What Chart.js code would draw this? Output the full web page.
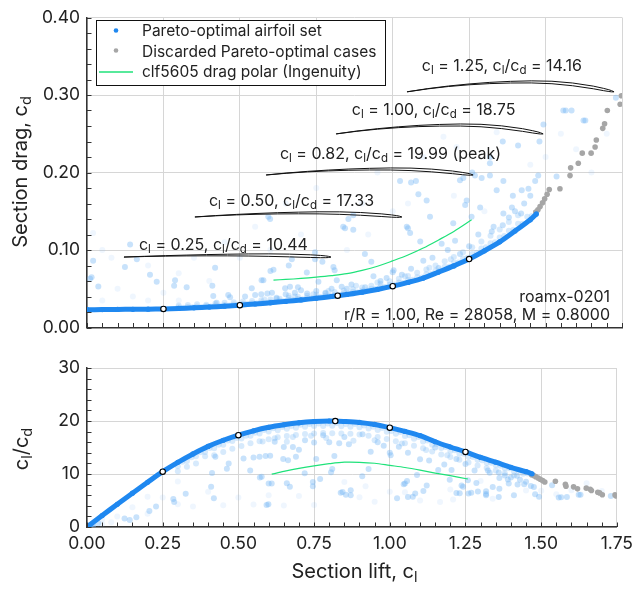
<!DOCTYPE html>
<html>
<head>
<meta charset="utf-8">
<script src="https://cdn.jsdelivr.net/npm/chart.js@4.4.1/dist/chart.umd.min.js"></script>
<style>
  html, body { margin: 0; padding: 0; background: #fff; }
  #wrap { position: relative; width: 639px; height: 589px; overflow: hidden; }
  #dragChart { position: absolute; left: 0; top: 0; width: 639px; height: 345px; }
  #ratioChart { position: absolute; left: 0; top: 345px; width: 639px; height: 244px; }
</style>
</head>
<body>
<div id="wrap">
  <canvas id="dragChart" width="639" height="345"></canvas>
  <canvas id="ratioChart" width="639" height="244"></canvas>
</div>
<script>
// ---- Pareto-optimal front (section lift vs. section drag) ----
const frontCl = [0.00, 0.05, 0.10, 0.15, 0.20, 0.25, 0.30, 0.35, 0.40, 0.45, 0.50, 0.55, 0.60, 0.65, 0.70,
                 0.75, 0.80, 0.85, 0.90, 0.95, 1.00, 1.05, 1.10, 1.15, 1.20, 1.25, 1.30, 1.35, 1.40, 1.45, 1.47];
const frontCd = [0.0230, 0.0231, 0.0233, 0.0235, 0.0237, 0.02395, 0.0246, 0.0254, 0.0263, 0.0275, 0.02885, 0.0303, 0.0319, 0.0337, 0.0356,
                 0.0377, 0.0400, 0.0427, 0.0456, 0.0491, 0.05333, 0.0582, 0.0638, 0.0715, 0.0795, 0.08828, 0.0990, 0.1105, 0.1245, 0.1390, 0.1465];

// ---- Pareto-optimal cases beyond the usable range (discarded) ----
const discardCl = [1.468, 1.475, 1.482, 1.490, 1.497, 1.505, 1.512, 1.547, 1.580, 1.582, 1.607, 1.620, 1.649, 1.662, 1.666, 1.687, 1.693, 1.702, 1.744, 1.748];
const discardCd = [0.149, 0.152, 0.156, 0.161, 0.166, 0.172, 0.178, 0.179, 0.196, 0.206, 0.212, 0.225, 0.225, 0.233, 0.242, 0.257, 0.263, 0.280, 0.288, 0.299];

// ---- clf5605 drag polar (Ingenuity) ----
const polarCl = [0.61, 0.65, 0.70, 0.75, 0.80, 0.85, 0.90, 0.95, 1.00, 1.05, 1.10, 1.15, 1.20, 1.258];
const polarCd = [0.0612, 0.0620, 0.0633, 0.0650, 0.0670, 0.0695, 0.0737, 0.0790, 0.0860, 0.0935, 0.1025, 0.1130, 0.1240, 0.1390];

// ---- Highlighted design points ----
const markerCl = [0.25, 0.50, 0.82, 1.00, 1.25];
const markerLD = [10.44, 17.33, 19.99, 18.75, 14.16];
const markerNote = ['', '', ' (peak)', '', ''];

// ---- Non-optimal candidates close to the front ----
const bandCl = [0.30, 0.30, 0.33, 0.33, 0.36, 0.36, 0.39, 0.39, 0.42, 0.42, 0.45, 0.45, 0.48, 0.48, 0.51, 0.51,
                0.54, 0.54, 0.57, 0.57, 0.60, 0.60, 0.63, 0.63, 0.66, 0.66, 0.69, 0.69, 0.72, 0.72, 0.75, 0.75,
                0.78, 0.78, 0.81, 0.81, 0.84, 0.84, 0.87, 0.87, 0.90, 0.90, 0.93, 0.93, 0.96, 0.96, 0.99, 0.99,
                1.02, 1.02, 1.05, 1.05, 1.08, 1.08, 1.11, 1.11, 1.14, 1.14, 1.17, 1.17, 1.20, 1.20, 1.23, 1.23,
                1.26, 1.26, 1.29, 1.29, 1.32, 1.32, 1.35, 1.35, 1.38, 1.38, 1.41, 1.41, 1.44,
                0.465, 0.525, 0.585, 0.645, 0.705, 0.765, 0.825, 0.885, 0.945, 1.005, 1.065, 1.125, 1.185, 1.245, 1.305, 1.365, 1.425,
                0.315, 0.345, 0.375, 0.405, 0.435, 0.495, 0.555, 0.615, 0.675, 0.735, 0.795, 0.855, 0.915, 0.975, 1.035, 1.095,
                1.155, 1.215, 1.275, 1.335, 1.395, 1.455,
                0.62, 0.68, 0.74, 0.79, 0.88, 0.95, 1.04, 1.12, 1.19, 0.58, 0.66];
const bandCd = [0.0262, 0.0285, 0.0265, 0.0290, 0.0270, 0.0300, 0.0276, 0.0292, 0.0283, 0.0310, 0.0290, 0.0318, 0.0296, 0.0325, 0.0305, 0.0334,
                0.0314, 0.0342, 0.0323, 0.0352, 0.0333, 0.0362, 0.0345, 0.0372, 0.0356, 0.0384, 0.0368, 0.0398, 0.0381, 0.0410, 0.0394, 0.0425,
                0.0409, 0.0440, 0.0424, 0.0458, 0.0442, 0.0476, 0.0460, 0.0495, 0.0478, 0.0515, 0.0500, 0.0540, 0.0524, 0.0566, 0.0551, 0.0596,
                0.0580, 0.0630, 0.0612, 0.0665, 0.0648, 0.0705, 0.0688, 0.0748, 0.0735, 0.0800, 0.0785, 0.0855, 0.0836, 0.0910, 0.0890, 0.0970,
                0.0950, 0.1035, 0.1018, 0.1110, 0.1088, 0.1185, 0.1160, 0.1265, 0.1250, 0.1360, 0.1338, 0.1450, 0.1430,
                0.0285, 0.0305, 0.0320, 0.0342, 0.0365, 0.0392, 0.0420, 0.0455, 0.0500, 0.0555, 0.0615, 0.0690, 0.0785, 0.0900, 0.1035, 0.1180, 0.1340,
                0.0256, 0.0262, 0.0266, 0.0272, 0.0280, 0.0295, 0.0312, 0.0330, 0.0354, 0.0378, 0.0407, 0.0440, 0.0478, 0.0522, 0.0578, 0.0645,
                0.0737, 0.0840, 0.0965, 0.1100, 0.1260, 0.1440,
                0.0370, 0.0400, 0.0430, 0.0470, 0.0540, 0.0580, 0.0660, 0.0770, 0.0880, 0.0360, 0.0410];

// ---- Scattered non-optimal candidates ----
const cloudCl = [0.010, 0.020, 0.015, 0.037, 0.124, 0.163, 0.141, 0.206, 0.228, 0.285, 0.326, 0.288, 0.410, 0.419, 0.413, 0.424,
                 0.468, 0.462, 0.517, 0.539, 0.571, 0.577, 0.593, 0.599, 0.550, 0.570, 0.590, 0.605, 0.620, 0.650, 0.648, 0.664,
                 0.690, 0.610, 0.719, 0.746, 0.746, 0.770, 0.757, 0.806, 0.810, 0.817, 0.838, 0.844, 0.855, 0.871, 0.871, 0.909,
                 0.930, 1.024, 1.076, 1.060, 1.046, 1.057, 1.050, 1.084, 1.090, 1.111, 1.122, 1.160, 1.198, 1.204, 1.220, 1.231,
                 1.237, 1.242, 1.258, 1.260, 1.269, 1.286, 1.291, 1.318, 1.318, 1.318, 1.324, 1.340, 1.360, 1.362, 1.362, 1.360,
                 1.390, 1.393, 1.400, 1.420, 1.422, 1.410, 1.444, 1.450, 1.466, 1.476, 1.480, 1.493, 1.536, 1.558, 1.566, 1.585,
                 1.624, 1.630, 1.730, 0.600, 0.660, 0.670, 0.833, 0.865, 0.910, 0.937, 1.000, 1.003, 1.060, 1.100, 1.150, 1.220,
                 1.250, 0.960, 0.980, 1.030, 1.130, 1.180, 1.280, 1.330, 1.380, 1.430, 0.720, 0.750, 0.780, 0.800, 0.850, 0.700, 0.680];
const cloudCd = [0.063, 0.086, 0.065, 0.053, 0.078, 0.088, 0.107, 0.068, 0.059, 0.054, 0.052, 0.061, 0.054, 0.077, 0.0405, 0.032,
                 0.039, 0.042, 0.040, 0.0505, 0.061, 0.061, 0.143, 0.140, 0.042, 0.043, 0.044, 0.045, 0.0385, 0.043, 0.0505, 0.0527,
                 0.052, 0.0745, 0.071, 0.088, 0.097, 0.085, 0.059, 0.078, 0.074, 0.061, 0.130, 0.128, 0.140, 0.126, 0.145, 0.095,
                 0.085, 0.189, 0.189, 0.187, 0.130, 0.122, 0.128, 0.172, 0.111, 0.164, 0.143, 0.108, 0.1346, 0.112, 0.190, 0.193,
                 0.158, 0.164, 0.143, 0.200, 0.196, 0.155, 0.193, 0.196, 0.212, 0.220, 0.124, 0.177, 0.132, 0.189, 0.147, 0.240,
                 0.155, 0.170, 0.150, 0.147, 0.177, 0.235, 0.179, 0.170, 0.189, 0.196, 0.240, 0.262, 0.195, 0.280, 0.280, 0.280,
                 0.267, 0.267, 0.2965, 0.073, 0.080, 0.088, 0.0527, 0.0554, 0.052, 0.066, 0.0714, 0.074, 0.0757, 0.086, 0.0767, 0.095,
                 0.105, 0.060, 0.064, 0.068, 0.090, 0.100, 0.120, 0.130, 0.142, 0.160, 0.044, 0.047, 0.045, 0.050, 0.050, 0.048, 0.045];

// ---- Very faint background candidates ----
const faintCl = [0.05, 0.02, 0.08, 0.20, 0.30, 0.35, 0.45, 0.50, 0.55, 0.65, 0.70, 0.75, 0.90, 0.95, 1.00, 1.10, 1.166, 1.209,
                 1.34, 1.45, 1.50, 1.60, 1.65, 1.70, 0.85, 0.60, 0.40, 0.25, 0.15, 0.10, 0.05, 0.20, 0.30, 1.55, 0.92, 1.05, 1.20, 1.30];
const faintCd = [0.100, 0.122, 0.090, 0.080, 0.070, 0.090, 0.110, 0.090, 0.130, 0.160, 0.120, 0.180, 0.160, 0.200, 0.150, 0.220, 0.246, 0.233,
                 0.252, 0.210, 0.220, 0.230, 0.200, 0.250, 0.100, 0.100, 0.060, 0.045, 0.040, 0.050, 0.035, 0.035, 0.035, 0.250, 0.120, 0.160, 0.170, 0.150];

// ---- Axis ticks ----
const liftTicks = [0.00, 0.25, 0.50, 0.75, 1.00, 1.25, 1.50, 1.75];
const dragTicks = [0.00, 0.10, 0.20, 0.30, 0.40];
const ratioTicks = [0, 10, 20, 30];

// ---- Section outlines placed beside each design-point label ----
const foilStation = [0, 0.0125, 0.025, 0.05, 0.10, 0.20, 0.30, 0.40, 0.50, 0.60, 0.70, 0.80, 0.90, 1.00];
const foilCamberShape = [0, 0.06, 0.12, 0.23, 0.44, 0.75, 0.94, 1.00, 0.97, 0.89, 0.75, 0.56, 0.31, 0];
const foilHalfThickness = [0, 0.0030, 0.0042, 0.0055, 0.0064, 0.0066, 0.0060, 0.0050, 0.0040, 0.0030, 0.0020, 0.0012, 0.0006, 0.0002];
const foilCamber = [0.010, 0.020, 0.029, 0.043, 0.048];

// label / outline placement in axis units
const foilLayout = {
  tailCl: [0.121, 0.353, 0.586, 0.815, 1.047],
  chordCd: [0.0909, 0.1426, 0.1968, 0.2498, 0.3041],
  chord: 0.677,
  textCl: [0.170, 0.399, 0.631, 0.866, 1.095],
  textCd: [0.1073, 0.1640, 0.2250, 0.2814, 0.3386]
};

const FONT = 'Inter, "Noto Sans", "DejaVu Sans", sans-serif';
const INK = '#222222';
const BLUE = '#1f88f0';
const GRAY = '#a6a6a6';
const GREEN = '#1fe27a';

Chart.defaults.font.family = FONT;
Chart.defaults.color = INK;

function zipTop(xs, cds) { return xs.map((x, i) => ({ x: x, y: cds[i] })); }
function zipRatio(xs, cds) { return xs.map((x, i) => ({ x: x, y: cds[i] > 0 ? x / cds[i] : 0 })); }

// text with _{...} subscripts
function parseRich(s) {
  const out = []; const re = /_\{([^}]*)\}/g; let last = 0, m;
  while ((m = re.exec(s))) {
    if (m.index > last) out.push({ t: s.slice(last, m.index), sub: false });
    out.push({ t: m[1], sub: true });
    last = re.lastIndex;
  }
  if (last < s.length) out.push({ t: s.slice(last), sub: false });
  return out;
}
function drawRich(ctx, s, x, yMid, size, align, color) {
  const segs = parseRich(s); const subSize = size * 0.72;
  let w = 0;
  for (const g of segs) { ctx.font = (g.sub ? subSize : size) + 'px ' + FONT; g.w = ctx.measureText(g.t).width; w += g.w; }
  let cx = align === 'center' ? x - w / 2 : align === 'right' ? x - w : x;
  const base = yMid + size * 0.36;
  ctx.fillStyle = color || INK; ctx.textBaseline = 'alphabetic'; ctx.textAlign = 'left';
  for (const g of segs) {
    ctx.font = (g.sub ? subSize : size) + 'px ' + FONT;
    ctx.fillText(g.t, cx, g.sub ? base + size * 0.2 : base);
    cx += g.w;
  }
}

// short tick marks on the inside of the left and bottom axes
function innerTicks(chart, xStep, yStep) {
  const { ctx, chartArea: a, scales: { x, y } } = chart;
  ctx.save();
  ctx.strokeStyle = '#333'; ctx.lineWidth = 1;
  ctx.beginPath();
  const nx = Math.round((x.max - x.min) / xStep);
  for (let i = 0; i <= nx; i++) {
    const px = Math.round(x.getPixelForValue(x.min + i * xStep)) + 0.5;
    ctx.moveTo(px, a.bottom); ctx.lineTo(px, a.bottom - 4.5);
  }
  const ny = Math.round((y.max - y.min) / yStep);
  for (let i = 0; i <= ny; i++) {
    const py = Math.round(y.getPixelForValue(y.min + i * yStep)) + 0.5;
    ctx.moveTo(a.left, py); ctx.lineTo(a.left + 4.5, py);
  }
  ctx.stroke();
  ctx.restore();
}

function drawFoil(ctx, x, y, idx) {
  const left = x.getPixelForValue(foilLayout.tailCl[idx]);
  const right = x.getPixelForValue(foilLayout.tailCl[idx] + foilLayout.chord);
  const c = right - left;
  const yc = y.getPixelForValue(foilLayout.chordCd[idx]);
  const m = foilCamber[idx];
  const upper = [], lower = [];
  for (let k = 0; k < foilStation.length; k++) {
    const px = right - foilStation[k] * c;
    const camb = m * foilCamberShape[k] * c;
    const t = foilHalfThickness[k] * c;
    upper.push([px, yc - camb - t]);
    lower.push([px, yc - camb + t]);
  }
  ctx.save();
  ctx.strokeStyle = '#111'; ctx.lineWidth = 1; ctx.lineJoin = 'round';
  ctx.beginPath();
  ctx.moveTo(upper[0][0], upper[0][1]);
  for (let k = 1; k < upper.length; k++) ctx.lineTo(upper[k][0], upper[k][1]);
  for (let k = lower.length - 1; k >= 0; k--) ctx.lineTo(lower[k][0], lower[k][1]);
  ctx.closePath();
  ctx.stroke();
  ctx.restore();
}

const dragDecor = {
  id: 'dragDecor',
  afterDatasetsDraw(chart) {
    const { ctx, scales: { x, y } } = chart;
    innerTicks(chart, 0.05, 0.02);
    // design-point labels and section outlines
    for (let i = 0; i < markerCl.length; i++) {
      drawFoil(ctx, x, y, i);
      const label = 'c_{l} = ' + markerCl[i].toFixed(2) + ', c_{l}/c_{d} = ' + markerLD[i].toFixed(2) + markerNote[i];
      drawRich(ctx, label, x.getPixelForValue(foilLayout.textCl[i]), y.getPixelForValue(foilLayout.textCd[i]), 16, 'left');
    }
    // case description
    drawRich(ctx, 'roamx-0201', 610, 296.5, 16, 'right');
    drawRich(ctx, 'r/R = 1.00, Re = 28058, M = 0.8000', 610, 314, 16, 'right');
    // legend
    ctx.save();
    ctx.fillStyle = '#fff'; ctx.fillRect(96, 20, 290, 65);
    ctx.strokeStyle = '#111'; ctx.lineWidth = 1; ctx.strokeRect(96.5, 20.5, 289, 65);
    ctx.fillStyle = BLUE; ctx.beginPath(); ctx.arc(116, 30.5, 2.3, 0, Math.PI * 2); ctx.fill();
    ctx.fillStyle = GRAY; ctx.beginPath(); ctx.arc(116, 50.5, 2.3, 0, Math.PI * 2); ctx.fill();
    ctx.strokeStyle = GREEN; ctx.lineWidth = 1.5; ctx.beginPath(); ctx.moveTo(99, 72); ctx.lineTo(133, 72); ctx.stroke();
    ctx.restore();
    drawRich(ctx, 'Pareto-optimal airfoil set', 142, 30.5, 15.5, 'left');
    drawRich(ctx, 'Discarded Pareto-optimal cases', 142, 51, 15.5, 'left');
    drawRich(ctx, 'clf5605 drag polar (Ingenuity)', 142, 71.5, 15.5, 'left');
    // y title
    ctx.save();
    ctx.translate(20, 172); ctx.rotate(-Math.PI / 2);
    drawRich(ctx, 'Section drag, c_{d}', 0, 0, 20, 'center');
    ctx.restore();
  }
};

const ratioDecor = {
  id: 'ratioDecor',
  afterDatasetsDraw(chart) {
    const { ctx } = chart;
    innerTicks(chart, 0.05, 2);
    ctx.save();
    ctx.translate(21, 104); ctx.rotate(-Math.PI / 2);
    drawRich(ctx, 'c_{l}/c_{d}', 0, 0, 20, 'center');
    ctx.restore();
    drawRich(ctx, 'Section lift, c_{l}', 354.5, 226, 20, 'center');
  }
};

// Chart.js paints the first dataset last, so the list runs from topmost to lowest layer
function datasets(zip) {
  return [
    { label: 'design points', data: markerCl.map((c, i) => ({ x: c, y: zip === zipTop ? c / markerLD[i] : markerLD[i] })),
      showLine: false, pointRadius: 2.7, pointBorderWidth: 1.1, pointBackgroundColor: '#ffffff', pointBorderColor: '#000000',
      backgroundColor: '#ffffff', borderColor: '#000000' },
    { label: 'Pareto-optimal airfoil set', data: zip(frontCl, frontCd), showLine: true, borderColor: BLUE,
      borderWidth: 5, pointRadius: 2.6, pointBorderWidth: 0, backgroundColor: BLUE, tension: 0.3, fill: false },
    { label: 'Discarded Pareto-optimal cases', data: zip(discardCl, discardCd), pointRadius: 2.8, pointBorderWidth: 0,
      backgroundColor: GRAY, showLine: false },
    { label: 'clf5605 drag polar (Ingenuity)', data: zip(polarCl, polarCd), showLine: true, borderColor: GREEN,
      borderWidth: 1.2, pointRadius: 0, tension: 0.3, fill: false },
    { label: 'cloud', data: zip(cloudCl, cloudCd), pointRadius: 3, pointBorderWidth: 0,
      backgroundColor: 'rgba(110,180,245,0.38)', showLine: false },
    { label: 'band', data: zip(bandCl, bandCd), pointRadius: 3, pointBorderWidth: 0,
      backgroundColor: 'rgba(110,180,245,0.28)', showLine: false },
    { label: 'faint', data: zip(faintCl, faintCd), pointRadius: 3, pointBorderWidth: 0,
      backgroundColor: 'rgba(120,185,245,0.12)', showLine: false }
  ];
}

const gridColor = '#d6d6d6';
const tickFont = { size: 17.5, family: FONT };

function xScale(showLabels, height) {
  return {
    type: 'linear', min: 0, max: 1.75,
    afterBuildTicks(s) { s.ticks = liftTicks.map(v => ({ value: v })); },
    ticks: { display: showLabels, padding: 6, font: tickFont, color: INK, callback: v => Number(v).toFixed(2) },
    grid: { color: gridColor, lineWidth: 1, drawTicks: false },
    border: { display: true, color: '#333', width: 1.5 },
    afterFit(s) { s.height = height; }
  };
}
function yScale(ticks, max, digits) {
  return {
    type: 'linear', min: 0, max: max,
    afterBuildTicks(s) { s.ticks = ticks.map(v => ({ value: v })); },
    ticks: { padding: 7, font: tickFont, color: INK, callback: v => Number(v).toFixed(digits) },
    grid: { color: gridColor, lineWidth: 1, drawTicks: false },
    border: { display: true, color: '#333', width: 1.5 },
    afterFit(s) { s.width = 87; }
  };
}

new Chart(document.getElementById('dragChart'), {
  type: 'scatter',
  data: { datasets: datasets(zipTop) },
  options: {
    responsive: false, animation: false, devicePixelRatio: 1,
    layout: { padding: { left: 0, right: 17, top: 13, bottom: 0 } },
    plugins: { legend: { display: false }, tooltip: { enabled: false } },
    scales: { x: xScale(false, 15), y: yScale(dragTicks, 0.4, 2) }
  },
  plugins: [dragDecor]
});

new Chart(document.getElementById('ratioChart'), {
  type: 'scatter',
  data: { datasets: datasets(zipRatio) },
  options: {
    responsive: false, animation: false, devicePixelRatio: 1,
    layout: { padding: { left: 0, right: 17, top: 23, bottom: 0 } },
    plugins: { legend: { display: false }, tooltip: { enabled: false } },
    scales: { x: xScale(true, 62), y: yScale(ratioTicks, 30, 0) }
  },
  plugins: [ratioDecor]
});
</script>
</body>
</html>
